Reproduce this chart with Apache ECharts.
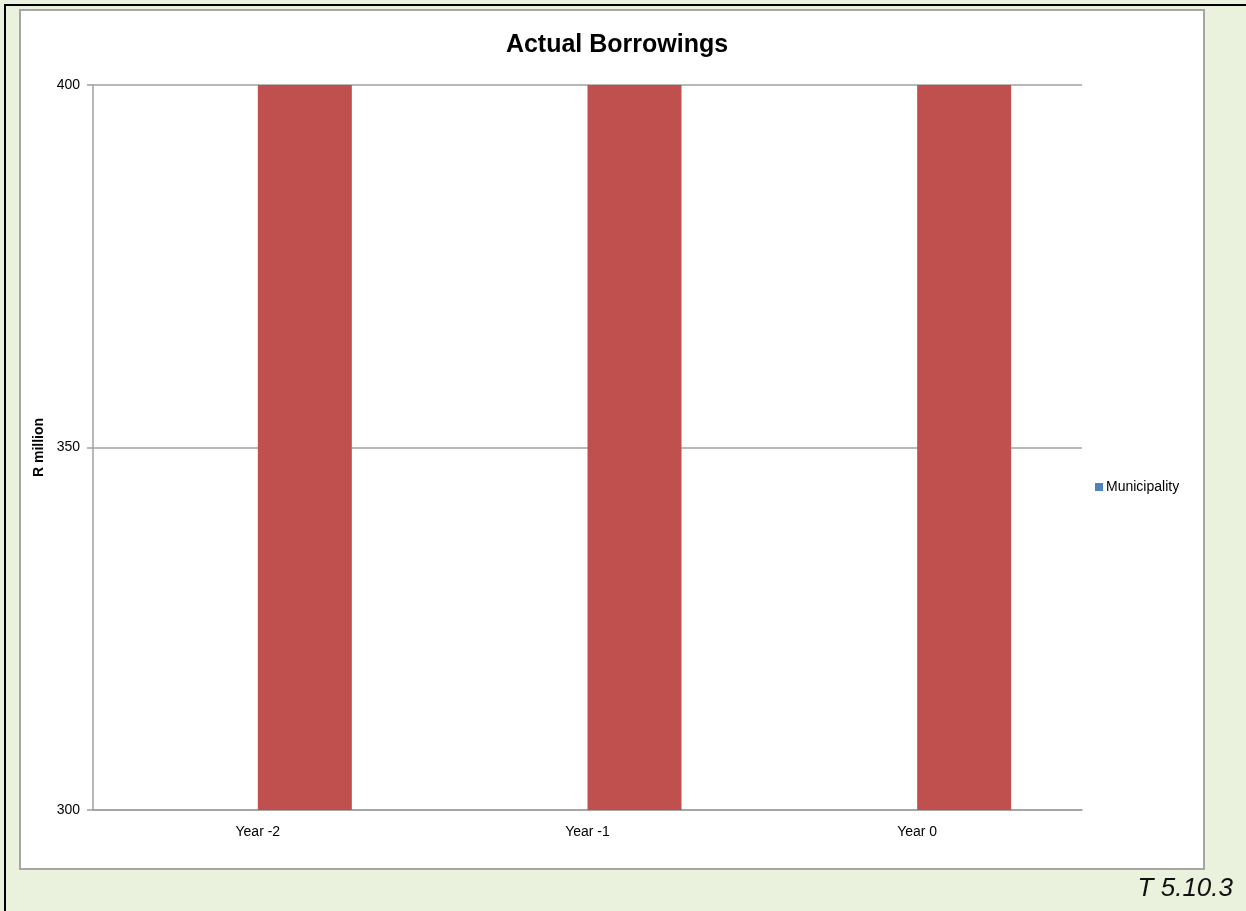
<!DOCTYPE html>
<html>
<head>
<meta charset="utf-8">
<script src="https://cdn.jsdelivr.net/npm/echarts@6/dist/echarts.min.js"></script>
<style>
html,body{margin:0;padding:0;background:#EAF1DD;}
#c{width:1246px;height:911px;}
</style>
</head>
<body>
<div id="c"></div>
<script>
const categories = ['Year -2', 'Year -1', 'Year 0'];
const municipality = [0, 0, 0];
const borrowings = [400, 400, 400];
const yTicks = [300, 350, 400];

const chart = echarts.init(document.getElementById('c'));
chart.setOption({
  backgroundColor: '#EAF1DD',
  animation: false,
  graphic: [
    { type: 'rect', shape: { x: 5, y: 4, width: 1250, height: 2 }, style: { fill: '#000' }, silent: true },
    { type: 'rect', shape: { x: 4, y: 4, width: 2, height: 920 }, style: { fill: '#000' }, silent: true },
    { type: 'rect', shape: { x: 20, y: 10, width: 1184, height: 859 },
      style: { fill: '#fff', stroke: '#A6A6A6', lineWidth: 2 }, z: -10, silent: true },
    { type: 'text', right: 13, top: 876,
      style: { text: 'T 5.10.3', font: 'italic 26px "Liberation Sans", Arial, sans-serif', fill: '#111' } }
  ],
  title: {
    text: 'Actual Borrowings',
    left: 612, textAlign: 'center', top: 28,
    textStyle: { fontFamily: '"Liberation Sans", Arial, sans-serif', fontSize: 25, fontWeight: 'bold', color: '#000' }
  },
  legend: {
    data: ['Municipality'],
    left: 1090, top: 475, orient: 'vertical',
    itemWidth: 8, itemHeight: 8, itemGap: 4,
    icon: 'rect',
    textStyle: { fontFamily: '"Liberation Sans", Arial, sans-serif', fontSize: 14, color: '#000', padding: [0, 0, 0, -2] }
  },
  grid: { left: 93, right: 164, top: 85, bottom: 101, containLabel: false },
  xAxis: {
    type: 'category',
    data: categories,
    axisLine: { lineStyle: { color: '#A0A0A0', width: 1.5 } },
    axisTick: { show: false },
    axisLabel: { margin: 15, fontFamily: '"Liberation Sans", Arial, sans-serif', fontSize: 14, color: '#000' }
  },
  yAxis: {
    type: 'value',
    min: yTicks[0], max: yTicks[yTicks.length - 1], interval: yTicks[1] - yTicks[0],
    name: 'R million', nameLocation: 'middle', nameGap: 43,
    nameTextStyle: { fontFamily: '"Liberation Sans", Arial, sans-serif', fontSize: 14, fontWeight: 'bold', color: '#000' },
    axisLine: { show: true, lineStyle: { color: '#A0A0A0', width: 1.5 } },
    axisTick: { show: true, length: 6, lineStyle: { color: '#A0A0A0', width: 1.5 } },
    axisLabel: { margin: 13, fontFamily: '"Liberation Sans", Arial, sans-serif', fontSize: 14, color: '#000' },
    splitLine: { lineStyle: { color: '#A0A0A0', width: 1.5 } }
  },
  series: [
    { name: 'Municipality', type: 'bar', data: municipality, barWidth: 94, barGap: '0%',
      itemStyle: { color: '#4F81BD' }, clip: true },
    { name: 'Borrowings', type: 'bar', data: borrowings, barWidth: 94, barGap: '0%',
      itemStyle: { color: '#C0504D' }, clip: true }
  ]
});
</script>
</body>
</html>
